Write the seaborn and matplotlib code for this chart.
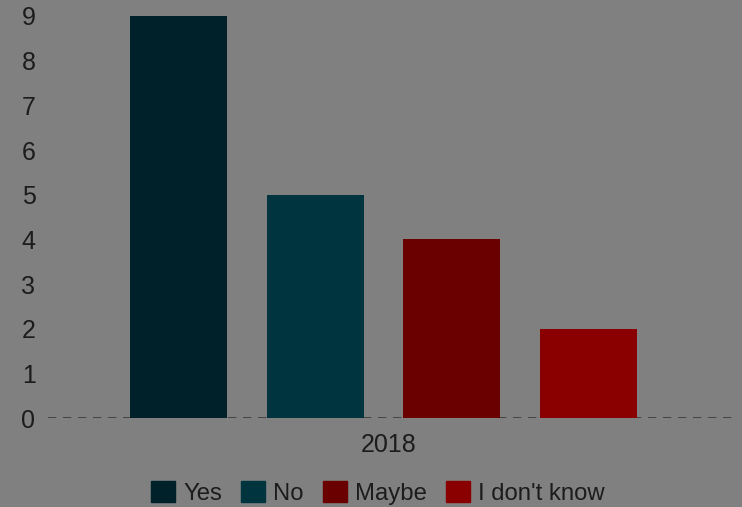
import matplotlib
matplotlib.use("Agg")
import matplotlib.pyplot as plt
import seaborn as sns
import pandas as pd

# Survey answers for one year
years = ["2018", "2018", "2018", "2018"]
answers = ["Yes", "No", "Maybe", "I don't know"]
counts = [9, 5, 4, 2]
colors = ["#00212a", "#003540", "#6b0000", "#8a0000"]
y_ticks = [0, 1, 2, 3, 4, 5, 6, 7, 8, 9]

df = pd.DataFrame({"year": years, "answer": answers, "count": counts})

sns.set_theme(style="white")
plt.rcParams["font.family"] = ["Liberation Sans", "DejaVu Sans"]

bg = "#808080"
txt = "#1c1c1c"

fig = plt.figure(figsize=(7.42, 5.07), dpi=100, facecolor=bg)
ax = fig.add_axes([48 / 742, 1 - 418 / 507, 684 / 742, (418 - 16) / 507])
ax.set_facecolor(bg)

sns.barplot(data=df, x="year", y="count", hue="answer", hue_order=answers,
            palette=colors, width=0.8, gap=0.29, saturation=1,
            edgecolor="none", ax=ax, legend=False)

ax.set_ylim(0, 9)
ax.set_yticks(y_ticks)
# the bar group sits a little left of the plot centre
ax.set_xlim(-0.4905, 0.5095)
ax.set_xticks([0.008])
ax.set_xticklabels(["2018"])
ax.axhline(0, color="#3a3a3a", lw=1.2, ls=(0, (5, 4)), zorder=0)
for s in ax.spines.values():
    s.set_visible(False)
ax.set_xlabel("")
ax.set_ylabel("")
ax.tick_params(axis="both", length=0, labelsize=18, colors=txt)
ax.tick_params(axis="y", pad=9)
ax.tick_params(axis="x", pad=11)

handles = [plt.Rectangle((0, 0), 1, 1, color=c) for c in colors]
fig.legend(handles, answers, loc="center", bbox_to_anchor=(378 / 742, 1 - 493 / 507),
           ncol=4, frameon=False, fontsize=17.2, labelcolor=txt,
           handlelength=1.0, handleheight=1.0, handletextpad=0.35, columnspacing=0.8)

fig.savefig("out.png", dpi=100, facecolor=bg)
